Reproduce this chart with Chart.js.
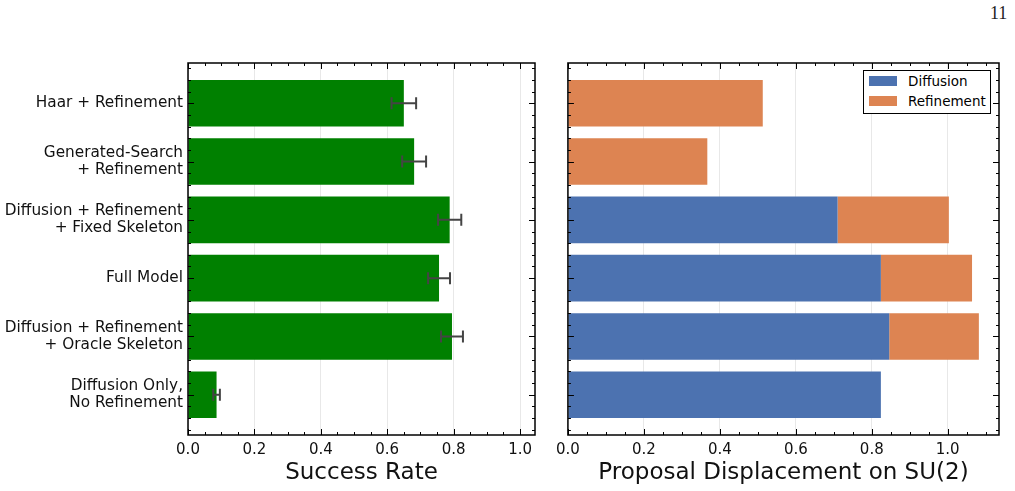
<!DOCTYPE html>
<html>
<head>
<meta charset="utf-8">
<script src="https://cdn.jsdelivr.net/npm/chart.js@4.4.1/dist/chart.umd.min.js"></script>
<style>
  body { margin: 0; background: #fff; width: 1015px; height: 491px; position: relative; overflow: hidden; font-family: 'DejaVu Sans', sans-serif; }
  #left { position: absolute; left: 0; top: 0; }
  #right { position: absolute; left: 550px; top: 0; }
  #pagenum { position: absolute; left: 990px; top: 3px; font-family: 'Liberation Serif', serif; font-size: 18px; color: #222; }
  #legend { position: absolute; left: 863px; top: 70px; width: 126px; height: 42px; border: 1.5px solid #000; background: #fff; font-size: 13.5px; }
  .item { position: absolute; left: 5px; display: flex; align-items: center; }
  .swatch { width: 28px; height: 10px; margin-right: 11px; }
</style>
</head>
<body>
<div id="pagenum">11</div>
<canvas id="left" width="545" height="491"></canvas>
<canvas id="right" width="465" height="491"></canvas>
<div id="legend">
  <div class="item" style="top:2px"><span class="swatch" style="background:#4C72B0"></span>Diffusion</div>
  <div class="item" style="top:22px"><span class="swatch" style="background:#DD8452"></span>Refinement</div>
</div>
<script>
// Data
const categories = [
  'Haar + Refinement',
  ['Generated-Search', '+ Refinement'],
  ['Diffusion + Refinement', '+ Fixed Skeleton'],
  'Full Model',
  ['Diffusion + Refinement', '+ Oracle Skeleton'],
  ['Diffusion Only,', 'No Refinement']
];
const successRate = [0.650, 0.681, 0.788, 0.756, 0.795, 0.086];
const successErr = [0.037, 0.036, 0.035, 0.033, 0.033, 0.010];
const diffusionDisp = [0, 0, 0.710, 0.824, 0.846, 0.824];
const refinementDisp = [0.513, 0.367, 0.293, 0.240, 0.236, 0];
const xTicks = [0, 0.2, 0.4, 0.6, 0.8, 1.0];

const FONT = 'DejaVu Sans';
const idx = categories.map((_, i) => i);

// inward ticks on all four spines + frame, like the matplotlib style
const framePlugin = {
  id: 'frame',
  afterDraw(chart) {
    const { ctx, chartArea: a, scales } = chart;
    const xs = scales.x, ys = scales.y;
    ctx.save();
    ctx.strokeStyle = '#000';
    ctx.lineWidth = 1;
    const tick = (x1, y1, x2, y2) => { ctx.beginPath(); ctx.moveTo(x1, y1); ctx.lineTo(x2, y2); ctx.stroke(); };
    for (let v = 0; v <= xs.max + 1e-9; v += 0.05) {
      const px = Math.round(xs.getPixelForValue(v)) + 0.5;
      const major = Math.abs(v / 0.2 - Math.round(v / 0.2)) < 1e-6;
      const len = major ? 6 : 3;
      tick(px, a.bottom, px, a.bottom - len);
      tick(px, a.top, px, a.top + len);
    }
    for (let v = -0.6; v <= 5.6 + 1e-9; v += 0.2) {
      const py = Math.round(ys.getPixelForValue(v)) + 0.5;
      const major = Math.abs(v - Math.round(v)) < 1e-6;
      const len = major ? 6 : 3;
      tick(a.left, py, a.left + len, py);
      tick(a.right, py, a.right - len, py);
    }
    ctx.lineWidth = 1.5;
    ctx.strokeRect(a.left, a.top, a.right - a.left, a.bottom - a.top);
    ctx.restore();
  }
};

const errorPlugin = {
  id: 'errors',
  afterDatasetsDraw(chart) {
    const { ctx, scales } = chart;
    const meta = chart.getDatasetMeta(0);
    ctx.save();
    ctx.strokeStyle = '#444';
    ctx.lineWidth = 2;
    meta.data.forEach((bar, i) => {
      const x1 = scales.x.getPixelForValue(successRate[i] - successErr[i]);
      const x2 = scales.x.getPixelForValue(successRate[i] + successErr[i]);
      const y = bar.y;
      ctx.beginPath();
      ctx.moveTo(x1, y); ctx.lineTo(x2, y);
      ctx.moveTo(x1, y - 6); ctx.lineTo(x1, y + 6);
      ctx.moveTo(x2, y - 6); ctx.lineTo(x2, y + 6);
      ctx.stroke();
    });
    ctx.restore();
  }
};

function xScale(max, title, stacked) {
  return {
    type: 'linear', min: 0, max: max, stacked: stacked,
    afterBuildTicks: s => { s.ticks = xTicks.map(v => ({ value: v })); },
    afterFit: s => { s.height = 56; },
    grid: { color: '#e8e8e8', lineWidth: 1, drawTicks: false },
    border: { display: false },
    ticks: { color: '#111', padding: 6, font: { family: FONT, size: 15 }, callback: v => v.toFixed(1) },
    title: { display: true, text: title, color: '#111', padding: { top: 0 }, font: { family: FONT, size: 23 } }
  };
}

function yScale(width, showLabels, stacked) {
  return {
    type: 'linear', min: -0.69, max: 5.69, reverse: true, stacked: stacked, offset: false,
    afterBuildTicks: s => { s.ticks = idx.map(v => ({ value: v })); },
    afterFit: s => { s.width = width; },
    grid: { display: false, drawTicks: false, offset: false },
    border: { display: false },
    ticks: {
      color: '#111', padding: 5, font: { family: FONT, size: 15.3, lineHeight: 1.13 },
      callback: v => showLabels ? categories[v] : ''
    }
  };
}

new Chart(document.getElementById('left'), {
  type: 'bar',
  data: {
    datasets: [{
      label: 'Success Rate',
      data: idx.map(i => ({ x: successRate[i], y: i })),
      backgroundColor: '#008000',
      categoryPercentage: 1, barPercentage: 0.8
    }]
  },
  options: {
    indexAxis: 'y', responsive: false, animation: false,
    layout: { padding: { top: 63, right: 10, left: 0, bottom: 0 } },
    plugins: { legend: { display: false }, tooltip: { enabled: false } },
    scales: { x: xScale(1.045, 'Success Rate', false), y: yScale(188, true, false) }
  },
  plugins: [errorPlugin, framePlugin]
});

new Chart(document.getElementById('right'), {
  type: 'bar',
  data: {
    datasets: [
      { label: 'Diffusion', data: idx.map(i => ({ x: diffusionDisp[i], y: i })), backgroundColor: '#4C72B0', categoryPercentage: 1, barPercentage: 0.8 },
      { label: 'Refinement', data: idx.map(i => ({ x: refinementDisp[i], y: i })), backgroundColor: '#DD8452', categoryPercentage: 1, barPercentage: 0.8 }
    ]
  },
  options: {
    indexAxis: 'y', responsive: false, animation: false,
    layout: { padding: { top: 63, right: 16, left: 0, bottom: 0 } },
    plugins: { legend: { display: false }, tooltip: { enabled: false } },
    scales: { x: xScale(1.135, 'Proposal Displacement on SU(2)', true), y: yScale(16, false, true) }
  },
  plugins: [framePlugin]
});
</script>
</body>
</html>
